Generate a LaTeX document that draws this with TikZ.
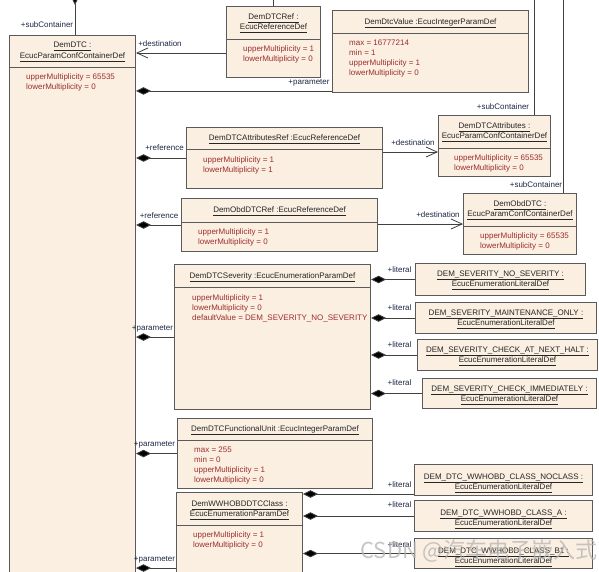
\documentclass[tikz,border=0pt]{standalone}
\usepackage{fontspec}
\setmainfont{Liberation Sans}
\newfontfamily\cjkfont{Noto Sans CJK SC}
\usetikzlibrary{arrows.meta}
\definecolor{boxfill}{HTML}{FAEFE1}
\definecolor{boxdraw}{HTML}{5A5A5A}
\definecolor{attrc}{HTML}{9E2E2E}
\definecolor{hdrc}{HTML}{262626}
\definecolor{lblc}{HTML}{1E2846}
\definecolor{linec}{HTML}{404040}
\definecolor{wmc}{HTML}{B4B4B4}
\newcommand{\ulx}[1]{\setbox0=\hbox{#1}\dp0=1.2pt\relax$\underline{\box0}$}
\newcommand{\ubox}[5]{\node[box, anchor=north west, minimum width={#4-#2}, minimum height={#5-#3}] (#1) at (#2,#3) {};}
\newcommand{\usep}[2]{\draw[sepline] (#1.west |- 0,#2) -- (#1.east |- 0,#2);}
\newcommand{\uhead}[4]{\node[hdr] (#1-#2) at (#1.north |- 0,#3) {\ulx{#4}};}
\newcommand{\uattr}[5]{\node[attr] (#1-#2) at (#3,#4) {#5};}
\tikzset{
  box/.style={draw=boxdraw, fill=boxfill, line width=1pt, rectangle, inner sep=0pt},
  sepline/.style={draw=boxdraw, line width=0.9pt},
  txt/.style={font=\fontsize{8}{10}\selectfont, inner sep=0pt, text height=5.8pt, text depth=0pt},
  hdr/.style={txt, text=hdrc, anchor=center},
  attr/.style={txt, text=attrc, anchor=west},
  lbl/.style={txt, text=lblc, anchor=center},
  conn/.style={draw=linec, line width=0.8pt},
  comp/.style={conn, {Diamond[length=15pt, width=7.5pt, fill=black]}-},
  dest/.style={conn, -{Straight Barb[length=11pt, width=10pt]}},
}
\begin{document}
\begin{tikzpicture}[x=1pt, y=-1pt]
\path[use as bounding box] (0,0) rectangle (599,572);
\fill[white] (0,0) rectangle (599,572);
\clip (0,0) rectangle (599,572);

% ---------- boxes ----------
\ubox{dtc}{9}{35}{135}{600}
\uhead{dtc}{h1}{45}{DemDTC :}
\uhead{dtc}{h2}{56}{EcucParamConfContainerDef}
\usep{dtc}{67}
\uattr{dtc}{a1}{26}{77}{upperMultiplicity = 65535}
\uattr{dtc}{a2}{26}{87}{lowerMultiplicity = 0}

\ubox{dtcref}{226}{6}{320}{77}
\uhead{dtcref}{h1}{17}{DemDTCRef :}
\uhead{dtcref}{h2}{27}{EcucReferenceDef}
\usep{dtcref}{39}
\uattr{dtcref}{a1}{243}{49}{upperMultiplicity = 1}
\uattr{dtcref}{a2}{243}{59}{lowerMultiplicity = 0}

\ubox{dtcval}{332}{10}{528}{92}
\uhead{dtcval}{h1}{22}{DemDtcValue :EcucIntegerParamDef}
\usep{dtcval}{33}
\uattr{dtcval}{a1}{349}{43}{max = 16777214}
\uattr{dtcval}{a2}{349}{53}{min = 1}
\uattr{dtcval}{a3}{349}{63}{upperMultiplicity = 1}
\uattr{dtcval}{a4}{349}{73}{lowerMultiplicity = 0}

\ubox{attrs}{438}{115}{550}{176}
\uhead{attrs}{h1}{126}{DemDTCAttributes :}
\uhead{attrs}{h2}{136}{EcucParamConfContainerDef}
\usep{attrs}{148}
\uattr{attrs}{a1}{454}{158}{upperMultiplicity = 65535}
\uattr{attrs}{a2}{454}{168}{lowerMultiplicity = 0}

\ubox{attrref}{186}{127}{382}{188}
\uhead{attrref}{h1}{138}{DemDTCAttributesRef :EcucReferenceDef}
\usep{attrref}{149}
\uattr{attrref}{a1}{203}{160}{upperMultiplicity = 1}
\uattr{attrref}{a2}{203}{170}{lowerMultiplicity = 1}

\ubox{obdref}{181}{198}{377}{251}
\uhead{obdref}{h1}{210}{DemObdDTCRef :EcucReferenceDef}
\usep{obdref}{222}
\uattr{obdref}{a1}{198}{232}{upperMultiplicity = 1}
\uattr{obdref}{a2}{198}{242}{lowerMultiplicity = 0}

\ubox{obd}{463}{193}{576}{254}
\uhead{obd}{h1}{204}{DemObdDTC :}
\uhead{obd}{h2}{214}{EcucParamConfContainerDef}
\usep{obd}{226}
\uattr{obd}{a1}{480}{236}{upperMultiplicity = 65535}
\uattr{obd}{a2}{480}{246}{lowerMultiplicity = 0}

\ubox{sev}{174}{264}{370}{409}
\uhead{sev}{h1}{276}{DemDTCSeverity :EcucEnumerationParamDef}
\usep{sev}{287}
\uattr{sev}{a1}{192}{298}{upperMultiplicity = 1}
\uattr{sev}{a2}{192}{308}{lowerMultiplicity = 0}
\uattr{sev}{a3}{192}{318}{defaultValue = DEM\_SEVERITY\_NO\_SEVERITY}

\ubox{lit1}{415}{263}{585}{295}
\uhead{lit1}{h1}{273.3}{DEM\_SEVERITY\_NO\_SEVERITY :}
\uhead{lit1}{h2}{283.3}{EcucEnumerationLiteralDef}
\ubox{lit2}{415}{302}{596}{333}
\uhead{lit2}{h1}{313}{DEM\_SEVERITY\_MAINTENANCE\_ONLY :}
\uhead{lit2}{h2}{323}{EcucEnumerationLiteralDef}
\ubox{lit3}{417}{339}{597}{370}
\uhead{lit3}{h1}{350}{DEM\_SEVERITY\_CHECK\_AT\_NEXT\_HALT :}
\uhead{lit3}{h2}{360}{EcucEnumerationLiteralDef}
\ubox{lit4}{422}{378}{596}{408}
\uhead{lit4}{h1}{388.5}{DEM\_SEVERITY\_CHECK\_IMMEDIATELY :}
\uhead{lit4}{h2}{398.5}{EcucEnumerationLiteralDef}

\ubox{fu}{177}{418}{372}{488}
\uhead{fu}{h1}{429}{DemDTCFunctionalUnit :EcucIntegerParamDef}
\usep{fu}{440}
\uattr{fu}{a1}{194}{450}{max = 255}
\uattr{fu}{a2}{194}{460}{min = 0}
\uattr{fu}{a3}{194}{470}{upperMultiplicity = 1}
\uattr{fu}{a4}{194}{480}{lowerMultiplicity = 0}

\ubox{wcls}{176}{492}{302}{600}
\uhead{wcls}{h1}{504}{DemWWHOBDDTCClass :}
\uhead{wcls}{h2}{514}{EcucEnumerationParamDef}
\usep{wcls}{525}
\uattr{wcls}{a1}{193}{535}{upperMultiplicity = 1}
\uattr{wcls}{a2}{193}{545}{lowerMultiplicity = 0}

\ubox{w1}{414}{464}{592}{495}
\uhead{w1}{h1}{477}{DEM\_DTC\_WWHOBD\_CLASS\_NOCLASS :}
\uhead{w1}{h2}{486.5}{EcucEnumerationLiteralDef}
\ubox{w2}{414}{500}{592}{531}
\uhead{w2}{h1}{513}{DEM\_DTC\_WWHOBD\_CLASS\_A :}
\uhead{w2}{h2}{522.5}{EcucEnumerationLiteralDef}
\ubox{w3}{414}{538}{592}{568}
\uhead{w3}{h1}{551}{DEM\_DTC\_WWHOBD\_CLASS\_B1 :}
\uhead{w3}{h2}{560.5}{EcucEnumerationLiteralDef}

% ---------- connectors ----------
\coordinate (topA) at (75,-10);
\coordinate (topB) at (273,-2);
\coordinate (topC) at (534,-2);
\coordinate (topD) at (563,-2);
\draw[comp] (topA) -- (dtc.north -| topA);
\draw[conn] (dtcref.north -| topB) -- (topB);
\draw[conn] (topC) -- (attrs.north -| topC);
\draw[conn] (topD) -- (obd.north -| topD);

\draw[dest] (dtcref.west |- 0,53) -- (dtc.east |- 0,53);
\draw[comp] (dtc.east |- 0,91) -- (dtcval.west |- 0,91);
\draw[comp] (dtc.east |- attrref.west) -- (attrref.west);
\draw[dest] (attrref.east |- 0,152) -- (attrs.west |- 0,152);
\draw[comp] (dtc.east |- obdref.west) -- (obdref.west);
\draw[dest] (obdref.east |- 0,224) -- (obd.west |- 0,224);
\draw[comp] (dtc.east |- sev.west) -- (sev.west);
\draw[comp] (sev.east |- lit1.west) -- (lit1.west);
\draw[comp] (sev.east |- lit2.west) -- (lit2.west);
\draw[comp] (sev.east |- lit3.west) -- (lit3.west);
\draw[comp] (sev.east |- lit4.west) -- (lit4.west);
\draw[comp] (dtc.east |- fu.west) -- (fu.west);
\draw[comp] (wcls.east |- 0,494) -- (w1.west |- 0,494);
\draw[comp] (wcls.east |- w2.west) -- (w2.west);
\draw[comp] (wcls.east |- w3.west) -- (w3.west);
\draw[comp] (dtc.east |- 0,568) -- (wcls.west |- 0,568);

% ---------- labels ----------
\node[lbl] (lb1) at (47,25) {+subContainer};
\node[lbl] (lb2) at (160,44) {+destination};
\node[lbl] (lb3) at (309,82) {+parameter};
\node[lbl] (lb4) at (503,107) {+subContainer};
\node[lbl] (lb5) at (536,185) {+subContainer};
\node[lbl] (lb6) at (164.5,148) {+reference};
\node[lbl] (lb7) at (413,143) {+destination};
\node[lbl] (lb8) at (159,216) {+reference};
\node[lbl] (lb9) at (438,215) {+destination};
\node[lbl] (lb10) at (152.5,328) {+parameter};
\node[lbl] (lb11) at (399.5,270) {+literal};
\node[lbl] (lb12) at (399.5,308) {+literal};
\node[lbl] (lb13) at (399.5,345) {+literal};
\node[lbl] (lb14) at (399.5,383) {+literal};
\node[lbl] (lb15) at (154.5,444) {+parameter};
\node[lbl] (lb16) at (399.5,485) {+literal};
\node[lbl] (lb17) at (399.5,505) {+literal};
\node[lbl] (lb18) at (399.5,545) {+literal};
\node[lbl] (lb19) at (154.5,559) {+parameter};

% ---------- watermark ----------
\node[font=\cjkfont\fontsize{22}{22}\selectfont, text=wmc, text opacity=0.75, anchor=east, inner sep=0pt] (wm) at (598,551) {CSDN @汽车电子嵌入式};
\end{tikzpicture}
\end{document}
